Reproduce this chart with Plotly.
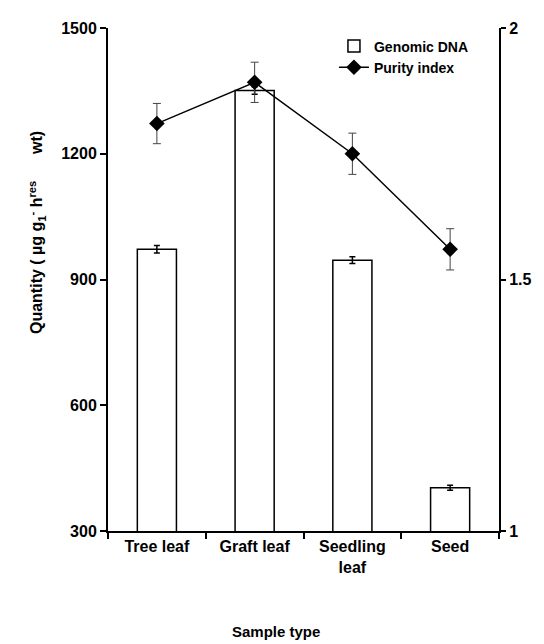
import plotly.graph_objects as go

categories = ["Tree leaf", "Graft leaf", "Seedling<br>leaf", "Seed"]
dna_values = [972, 1351, 946, 403]
dna_errors = [9, 9, 8, 6]
purity_values = [1.81, 1.892, 1.75, 1.56]
purity_errors = [0.04, 0.04, 0.041, 0.041]
y1_ticks = [300, 600, 900, 1200, 1500]
y1_labels = ["300", "600", "900", "1200", "1500"]
y2_ticks = [1, 1.5, 2]
y2_labels = ["1", "1.5", "2"]

font_family = "Liberation Sans, Arial, sans-serif"

# page has an 8px body margin; figure occupies 536x636 starting at (8, 8)
W, H = 536, 636
L, R, T, B = 100, 38, 12, 113

fig = go.Figure()
fig.add_trace(go.Bar(
    x=categories, y=dna_values, name="<b>Genomic DNA</b>",
    width=0.4,
    marker=dict(color="white", line=dict(color="black", width=1.5)),
    error_y=dict(type="data", array=dna_errors, color="black", thickness=1.5, width=3),
    yaxis="y",
))
fig.add_trace(go.Scatter(
    x=categories, y=purity_values, name="<b>Purity index</b>",
    mode="lines+markers",
    line=dict(color="black", width=1.5),
    marker=dict(symbol="diamond", size=12, color="black"),
    error_y=dict(type="data", array=purity_errors, color="#444", thickness=1, width=4),
    yaxis="y2",
))

xfont = dict(family=font_family, size=16, color="black")
yfont = dict(family=font_family, size=16, color="black")
fig.update_layout(
    width=W, height=H,
    margin=dict(l=L, r=R, t=T, b=B),
    plot_bgcolor="white", paper_bgcolor="white",
    showlegend=True,
    legend=dict(x=(338 - 108) / (506 - 108), y=0.995, xanchor="left", yanchor="top",
                font=dict(family=font_family, size=14, color="black"),
                bgcolor="rgba(0,0,0,0)", tracegroupgap=0, itemwidth=30),
    xaxis=dict(
        type="category", range=[-0.5, 3.5],
        tickvals=categories, ticktext=["<b>" + c + "</b>" for c in categories],
        showline=True, linecolor="black", linewidth=2,
        ticks="outside", tickson="boundaries", ticklen=6, tickwidth=1.5, tickcolor="black",
        tickfont=xfont, showgrid=False,
    ),
    yaxis=dict(
        range=[300, 1500], tickvals=y1_ticks, ticktext=["<b>" + t + "</b>" for t in y1_labels],
        showline=True, linecolor="black", linewidth=2,
        ticks="outside", ticklen=6, tickwidth=1.5, tickcolor="black",
        tickfont=yfont, showgrid=False, zeroline=False,
    ),
    yaxis2=dict(
        range=[1, 2], tickvals=y2_ticks, ticktext=["<b>" + t + "</b>" for t in y2_labels],
        overlaying="y", side="right",
        showline=True, linecolor="black", linewidth=2,
        ticks="outside", ticklen=5, tickwidth=1.5, tickcolor="black",
        tickfont=yfont, showgrid=False, zeroline=False,
    ),
    annotations=[
        dict(text="<b>Sample type</b>", xref="paper", yref="paper",
             x=(279 - 108) / (506 - 108), y=-(633 - 531) / (531 - 20),
             xanchor="center", yanchor="middle", showarrow=False,
             font=dict(family=font_family, size=15, color="black")),
        dict(text="<b>Quantity ( µg g<sub>1</sub><sup>-</sup> h<sup>res</sup>      wt)</b>",
             xref="paper", yref="paper", textangle=-90,
             x=-(108 - 35) / (506 - 108), y=(531 - 228) / (531 - 20),
             xanchor="center", yanchor="middle", showarrow=False,
             font=dict(family=font_family, size=16, color="black")),
    ],
)

fig.write_html("out.html")
